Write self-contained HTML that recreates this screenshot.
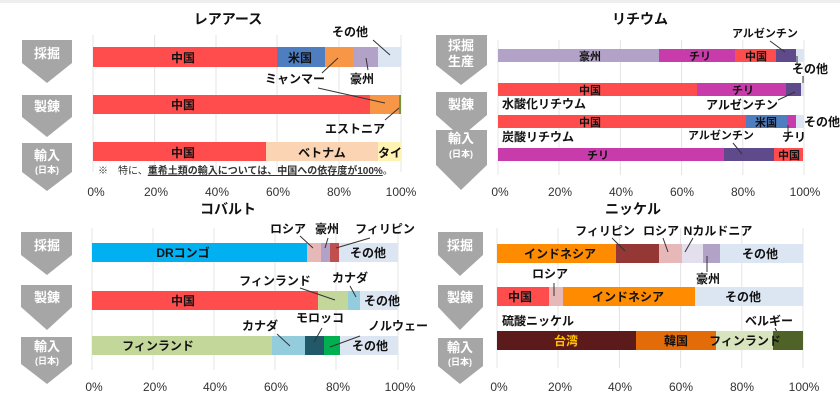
<!DOCTYPE html>
<html><head><meta charset="utf-8"><style>
html,body{margin:0;padding:0;background:#fff;}
svg{display:block;font-family:"Liberation Sans","Noto Sans CJK JP",sans-serif;}
.t{font-weight:bold;font-size:14px;fill:#111;}
.l{font-weight:bold;font-size:12px;fill:#111;}
.a{font-size:12px;fill:#333;}
.w{font-weight:bold;font-size:13px;fill:#fff;}
.ws{font-weight:bold;font-size:9px;fill:#fff;}
.g{stroke:#e4e4e4;stroke-width:1;}
.ln{stroke:#333;stroke-width:1;fill:none;}
</style></head><body>
<svg width="840" height="408" viewBox="0 0 840 408">
<rect width="840" height="408" fill="#fff"/>
<rect width="840" height="3" fill="#eee"/>

<!-- ============ TOP LEFT: レアアース ============ -->
<g class="g">
<line x1="93" y1="35" x2="93" y2="172"/><line x1="154.6" y1="35" x2="154.6" y2="172"/><line x1="216" y1="35" x2="216" y2="172"/><line x1="277" y1="35" x2="277" y2="172"/><line x1="339" y1="35" x2="339" y2="172"/><line x1="401" y1="35" x2="401" y2="172"/>
</g>
<text class="t" x="228" y="24" text-anchor="middle">レアアース</text>
<polygon points="22,40 72,40 72,63 47,83 22,63" fill="#a6a6a6"/>
<polygon points="22,95 72,95 72,117 47,137 22,117" fill="#a6a6a6"/>
<polygon points="22,143 72,143 72,172 47,191 22,172" fill="#a6a6a6"/>
<text class="w" x="47" y="58" text-anchor="middle">採掘</text>
<text class="w" x="47" y="111" text-anchor="middle">製錬</text>
<text class="w" x="47" y="160" text-anchor="middle">輸入</text>
<text class="ws" x="47" y="173" text-anchor="middle">(日本)</text>
<!-- row1 -->
<rect x="93" y="47" width="184" height="20" fill="#ff4d4d"/>
<rect x="277" y="47" width="48" height="20" fill="#4f7ec0"/>
<rect x="325" y="47" width="28" height="20" fill="#f79646"/>
<rect x="353" y="47" width="25" height="20" fill="#b3a2c7"/>
<rect x="378" y="47" width="23" height="20" fill="#dce6f2"/>
<text class="l" x="183" y="62" text-anchor="middle">中国</text>
<text class="l" x="300" y="62" text-anchor="middle">米国</text>
<text class="l" x="350" y="36" text-anchor="middle">その他</text>
<line class="ln" x1="373" y1="40" x2="390" y2="55"/>
<line class="ln" x1="322" y1="73" x2="338" y2="58"/>
<text class="l" x="295" y="83" text-anchor="middle">ミャンマー</text>
<line class="ln" x1="368" y1="70" x2="366" y2="58"/>
<text class="l" x="362" y="83" text-anchor="middle">豪州</text>
<!-- row2 -->
<rect x="93" y="95" width="277" height="19" fill="#ff4d4d"/>
<rect x="370" y="95" width="29" height="19" fill="#f79646"/>
<rect x="399" y="95" width="2" height="19" fill="#77933c"/>
<text class="l" x="183" y="109" text-anchor="middle">中国</text>
<line class="ln" x1="318" y1="88" x2="385" y2="103"/>
<line class="ln" x1="385" y1="120" x2="399" y2="108"/>
<text class="l" x="355" y="133" text-anchor="middle">エストニア</text>
<!-- row3 -->
<rect x="93" y="142" width="173" height="19" fill="#ff4d4d"/>
<rect x="266" y="142" width="112" height="19" fill="#fbd4b4"/>
<rect x="378" y="142" width="23" height="19" fill="#fff2b2"/>
<text class="l" x="183" y="157" text-anchor="middle">中国</text>
<text class="l" x="322" y="157" text-anchor="middle">ベトナム</text>
<text class="l" x="390" y="157" text-anchor="middle">タイ</text>
<text x="98" y="174" style="font-size:10px;fill:#333">※　特に、<tspan font-weight="bold" text-decoration="underline">重希土類の輸入については、中国への依存度が100%</tspan>。</text>
<text class="a" x="96" y="196" text-anchor="middle">0%</text><text class="a" x="156" y="196" text-anchor="middle">20%</text><text class="a" x="217" y="196" text-anchor="middle">40%</text><text class="a" x="278" y="196" text-anchor="middle">60%</text><text class="a" x="339" y="196" text-anchor="middle">80%</text><text class="a" x="401" y="196" text-anchor="middle">100%</text>

<!-- ============ TOP RIGHT: リチウム ============ -->
<g class="g">
<line x1="498" y1="40" x2="498" y2="175"/><line x1="559" y1="40" x2="559" y2="175"/><line x1="620.4" y1="40" x2="620.4" y2="175"/><line x1="681.6" y1="40" x2="681.6" y2="175"/><line x1="742.8" y1="40" x2="742.8" y2="175"/><line x1="804" y1="40" x2="804" y2="175"/>
</g>
<text class="t" x="640" y="24" text-anchor="middle">リチウム</text>
<polygon points="436,35 487,35 487,65 461,85 436,65" fill="#a6a6a6"/>
<polygon points="436,92 487,92 487,115 461,137 436,115" fill="#a6a6a6"/>
<polygon points="436,130 487,130 487,165 461,190 436,165" fill="#a6a6a6"/>
<text class="w" x="461" y="50" text-anchor="middle">採掘</text>
<text class="w" x="461" y="66" text-anchor="middle">生産</text>
<text class="w" x="461" y="109" text-anchor="middle">製錬</text>
<text class="w" x="461" y="143" text-anchor="middle">輸入</text>
<text class="ws" x="461" y="157" text-anchor="middle">(日本)</text>
<!-- row1 -->
<rect x="498" y="49" width="161" height="13" fill="#b3a2c7"/>
<rect x="659" y="49" width="76" height="13" fill="#c83bab"/>
<rect x="735" y="49" width="41" height="13" fill="#ff4d4d"/>
<rect x="776" y="49" width="20" height="13" fill="#5f4b8b"/>
<rect x="796" y="49" width="8" height="13" fill="#dce6f2"/>
<text class="l" x="590" y="60" text-anchor="middle" style="font-size:11px">豪州</text>
<text class="l" x="700" y="60" text-anchor="middle" style="font-size:11px">チリ</text>
<text class="l" x="756" y="60" text-anchor="middle" style="font-size:11px">中国</text>
<text class="l" x="765" y="37" text-anchor="middle" style="font-size:11px">アルゼンチン</text>
<line class="ln" x1="770" y1="41" x2="785" y2="52"/>
<line class="ln" x1="797" y1="56" x2="797" y2="64"/>
<text class="l" x="810" y="73" text-anchor="middle">その他</text>
<!-- row2 -->
<rect x="498" y="83" width="199" height="13" fill="#ff4d4d"/>
<rect x="697" y="83" width="89" height="13" fill="#c83bab"/>
<rect x="786" y="83" width="15" height="13" fill="#5f4b8b"/>
<rect x="801" y="83" width="3" height="13" fill="#dce6f2"/>
<text class="l" x="590" y="94" text-anchor="middle" style="font-size:11px">中国</text>
<text class="l" x="743" y="94" text-anchor="middle" style="font-size:11px">チリ</text>
<line class="ln" x1="803" y1="76" x2="803" y2="83"/>
<line class="ln" x1="778" y1="100" x2="795" y2="92"/>
<text class="l" x="502" y="108" style="font-size:12px">水酸化リチウム</text>
<text class="l" x="742" y="109" text-anchor="middle" style="font-size:12px">アルゼンチン</text>
<!-- row3 -->
<rect x="498" y="115" width="248" height="13" fill="#ff4d4d"/>
<rect x="746" y="115" width="41" height="13" fill="#4f7ec0"/>
<rect x="787" y="115" width="9" height="13" fill="#c83bab"/>
<rect x="796" y="115" width="8" height="13" fill="#dce6f2"/>
<text class="l" x="590" y="126" text-anchor="middle" style="font-size:11px">中国</text>
<text class="l" x="766" y="126" text-anchor="middle" style="font-size:11px">米国</text>
<text class="l" x="822" y="126" text-anchor="middle" style="font-size:12px">その他</text>
<line class="ln" x1="788" y1="125" x2="788" y2="132"/>
<text class="l" x="502" y="141" style="font-size:12px">炭酸リチウム</text>
<text class="l" x="721" y="139" text-anchor="middle" style="font-size:11px">アルゼンチン</text>
<text class="l" x="794" y="141" text-anchor="middle" style="font-size:12px">チリ</text>
<!-- row4 -->
<rect x="498" y="148" width="226" height="13" fill="#c83bab"/>
<rect x="724" y="148" width="50" height="13" fill="#5f4b8b"/>
<rect x="774" y="148" width="29" height="13" fill="#ff4d4d"/>
<text class="l" x="598" y="159" text-anchor="middle" style="font-size:11px">チリ</text>
<text class="l" x="789" y="159" text-anchor="middle" style="font-size:11px">中国</text>
<line class="ln" x1="733" y1="143" x2="742" y2="154"/>
<text class="a" x="500" y="196" text-anchor="middle">0%</text><text class="a" x="560" y="196" text-anchor="middle">20%</text><text class="a" x="621" y="196" text-anchor="middle">40%</text><text class="a" x="682" y="196" text-anchor="middle">60%</text><text class="a" x="743" y="196" text-anchor="middle">80%</text><text class="a" x="805" y="196" text-anchor="middle">100%</text>

<!-- ============ BOTTOM LEFT: コバルト ============ -->
<g class="g">
<line x1="92" y1="228" x2="92" y2="370"/><line x1="153" y1="228" x2="153" y2="370"/><line x1="214" y1="228" x2="214" y2="370"/><line x1="275" y1="228" x2="275" y2="370"/><line x1="336" y1="228" x2="336" y2="370"/><line x1="398" y1="228" x2="398" y2="370"/>
</g>
<text class="t" x="228" y="214" text-anchor="middle">コバルト</text>
<polygon points="21,232 72,232 72,255 47,275 21,255" fill="#a6a6a6"/>
<polygon points="21,285 72,285 72,307 47,330 21,307" fill="#a6a6a6"/>
<polygon points="21,337 72,337 72,364 47,384 21,364" fill="#a6a6a6"/>
<text class="w" x="47" y="250" text-anchor="middle">採掘</text>
<text class="w" x="47" y="302" text-anchor="middle">製錬</text>
<text class="w" x="47" y="351" text-anchor="middle">輸入</text>
<text class="ws" x="47" y="364" text-anchor="middle">(日本)</text>
<!-- row1 -->
<rect x="92" y="243" width="215" height="19" fill="#00b0f0"/>
<rect x="307" y="243" width="14" height="19" fill="#e6b9b8"/>
<rect x="321" y="243" width="9" height="19" fill="#b3a2c7"/>
<rect x="330" y="243" width="9" height="19" fill="#c0504d"/>
<rect x="339" y="243" width="59" height="19" fill="#dce6f2"/>
<text class="l" x="183" y="257" text-anchor="middle">DRコンゴ</text>
<text class="l" x="368" y="257" text-anchor="middle">その他</text>
<text class="l" x="288" y="233" text-anchor="middle">ロシア</text>
<text class="l" x="327" y="233" text-anchor="middle">豪州</text>
<text class="l" x="385" y="233" text-anchor="middle">フィリピン</text>
<line class="ln" x1="300" y1="236" x2="313" y2="248"/>
<line class="ln" x1="328" y1="238" x2="325" y2="248"/>
<line class="ln" x1="370" y1="238" x2="336" y2="248"/>
<!-- row2 -->
<rect x="92" y="291" width="226" height="19" fill="#ff4d4d"/>
<rect x="318" y="291" width="30" height="19" fill="#c4d79b"/>
<rect x="348" y="291" width="12" height="19" fill="#93cddd"/>
<rect x="360" y="291" width="38" height="19" fill="#dce6f2"/>
<text class="l" x="183" y="305" text-anchor="middle">中国</text>
<text class="l" x="382" y="305" text-anchor="middle">その他</text>
<text class="l" x="275" y="285" text-anchor="middle">フィンランド</text>
<text class="l" x="350" y="282" text-anchor="middle">カナダ</text>
<line class="ln" x1="300" y1="288" x2="335" y2="300"/>
<line class="ln" x1="350" y1="286" x2="356" y2="297"/>
<!-- row3 -->
<rect x="92" y="336" width="180" height="19" fill="#c4d79b"/>
<rect x="272" y="336" width="33" height="19" fill="#93cddd"/>
<rect x="305" y="336" width="19" height="19" fill="#215968"/>
<rect x="324" y="336" width="16" height="19" fill="#00b050"/>
<rect x="340" y="336" width="58" height="19" fill="#dce6f2"/>
<text class="l" x="158" y="350" text-anchor="middle">フィンランド</text>
<text class="l" x="370" y="350" text-anchor="middle">その他</text>
<text class="l" x="260" y="330" text-anchor="middle">カナダ</text>
<text class="l" x="320" y="322" text-anchor="middle">モロッコ</text>
<text class="l" x="398" y="330" text-anchor="middle">ノルウェー</text>
<line class="ln" x1="277" y1="334" x2="290" y2="346"/>
<line class="ln" x1="322" y1="328" x2="314" y2="342"/>
<line class="ln" x1="360" y1="336" x2="330" y2="347"/>
<text class="a" x="94" y="391" text-anchor="middle">0%</text><text class="a" x="155" y="391" text-anchor="middle">20%</text><text class="a" x="215" y="391" text-anchor="middle">40%</text><text class="a" x="276" y="391" text-anchor="middle">60%</text><text class="a" x="338" y="391" text-anchor="middle">80%</text><text class="a" x="400" y="391" text-anchor="middle">100%</text>

<!-- ============ BOTTOM RIGHT: ニッケル ============ -->
<g class="g">
<line x1="497" y1="228" x2="497" y2="368"/><line x1="558" y1="228" x2="558" y2="368"/><line x1="619.4" y1="228" x2="619.4" y2="368"/><line x1="680.6" y1="228" x2="680.6" y2="368"/><line x1="741.8" y1="228" x2="741.8" y2="368"/><line x1="803" y1="228" x2="803" y2="368"/>
</g>
<text class="t" x="633" y="214" text-anchor="middle">ニッケル</text>
<polygon points="438,232 483,232 483,255 460,276 438,255" fill="#a6a6a6"/>
<polygon points="438,285 483,285 483,307 460,330 438,307" fill="#a6a6a6"/>
<polygon points="438,338 483,338 483,366 460,384 438,366" fill="#a6a6a6"/>
<text class="w" x="460" y="250" text-anchor="middle">採掘</text>
<text class="w" x="460" y="302" text-anchor="middle">製錬</text>
<text class="w" x="460" y="352" text-anchor="middle">輸入</text>
<text class="ws" x="460" y="365" text-anchor="middle">(日本)</text>
<!-- row1 -->
<rect x="497" y="244" width="119" height="19" fill="#ff8c00"/>
<rect x="616" y="244" width="43" height="19" fill="#953735"/>
<rect x="659" y="244" width="23" height="19" fill="#e6b9b8"/>
<rect x="682" y="244" width="21" height="19" fill="#e4dfec"/>
<rect x="703" y="244" width="17" height="19" fill="#b3a2c7"/>
<rect x="720" y="244" width="83" height="19" fill="#dce6f2"/>
<text class="l" x="560" y="258" text-anchor="middle">インドネシア</text>
<text class="l" x="760" y="258" text-anchor="middle">その他</text>
<text class="l" x="605" y="235" text-anchor="middle">フィリピン</text>
<text class="l" x="661" y="235" text-anchor="middle">ロシア</text>
<text class="l" x="718" y="235" text-anchor="middle">Nカルドニア</text>
<line class="ln" x1="612" y1="238" x2="625" y2="251"/>
<line class="ln" x1="663" y1="238" x2="668" y2="252"/>
<line class="ln" x1="693" y1="238" x2="685" y2="252"/>
<line class="ln" x1="707" y1="256" x2="707" y2="272"/>
<text class="l" x="708" y="283" text-anchor="middle">豪州</text>
<!-- row2 -->
<rect x="497" y="287" width="52" height="19" fill="#ff4d4d"/>
<rect x="549" y="287" width="14" height="19" fill="#e6b9b8"/>
<rect x="563" y="287" width="132" height="19" fill="#ff8c00"/>
<rect x="695" y="287" width="108" height="19" fill="#dce6f2"/>
<text class="l" x="520" y="301" text-anchor="middle">中国</text>
<text class="l" x="628" y="301" text-anchor="middle">インドネシア</text>
<text class="l" x="743" y="301" text-anchor="middle">その他</text>
<text class="l" x="550" y="278" text-anchor="middle">ロシア</text>
<line class="ln" x1="554" y1="283" x2="554" y2="296"/>
<text class="l" x="502" y="325">硫酸ニッケル</text>
<text class="l" x="769" y="325" text-anchor="middle">ベルギー</text>
<line class="ln" x1="775" y1="328" x2="780" y2="338"/>
<!-- row3 -->
<rect x="497" y="331" width="139" height="19" fill="#5c1a1a"/>
<rect x="636" y="331" width="80" height="19" fill="#e36c09"/>
<rect x="716" y="331" width="57" height="19" fill="#d7e4bd"/>
<rect x="773" y="331" width="30" height="19" fill="#4f6228"/>
<text class="l" x="566" y="345" text-anchor="middle" style="fill:#ffc000">台湾</text>
<text class="l" x="676" y="345" text-anchor="middle">韓国</text>
<text class="l" x="745" y="345" text-anchor="middle">フィンランド</text>
<text class="a" x="499" y="391" text-anchor="middle">0%</text><text class="a" x="560" y="391" text-anchor="middle">20%</text><text class="a" x="620" y="391" text-anchor="middle">40%</text><text class="a" x="681" y="391" text-anchor="middle">60%</text><text class="a" x="742" y="391" text-anchor="middle">80%</text><text class="a" x="804" y="391" text-anchor="middle">100%</text>
</svg>
</body></html>
